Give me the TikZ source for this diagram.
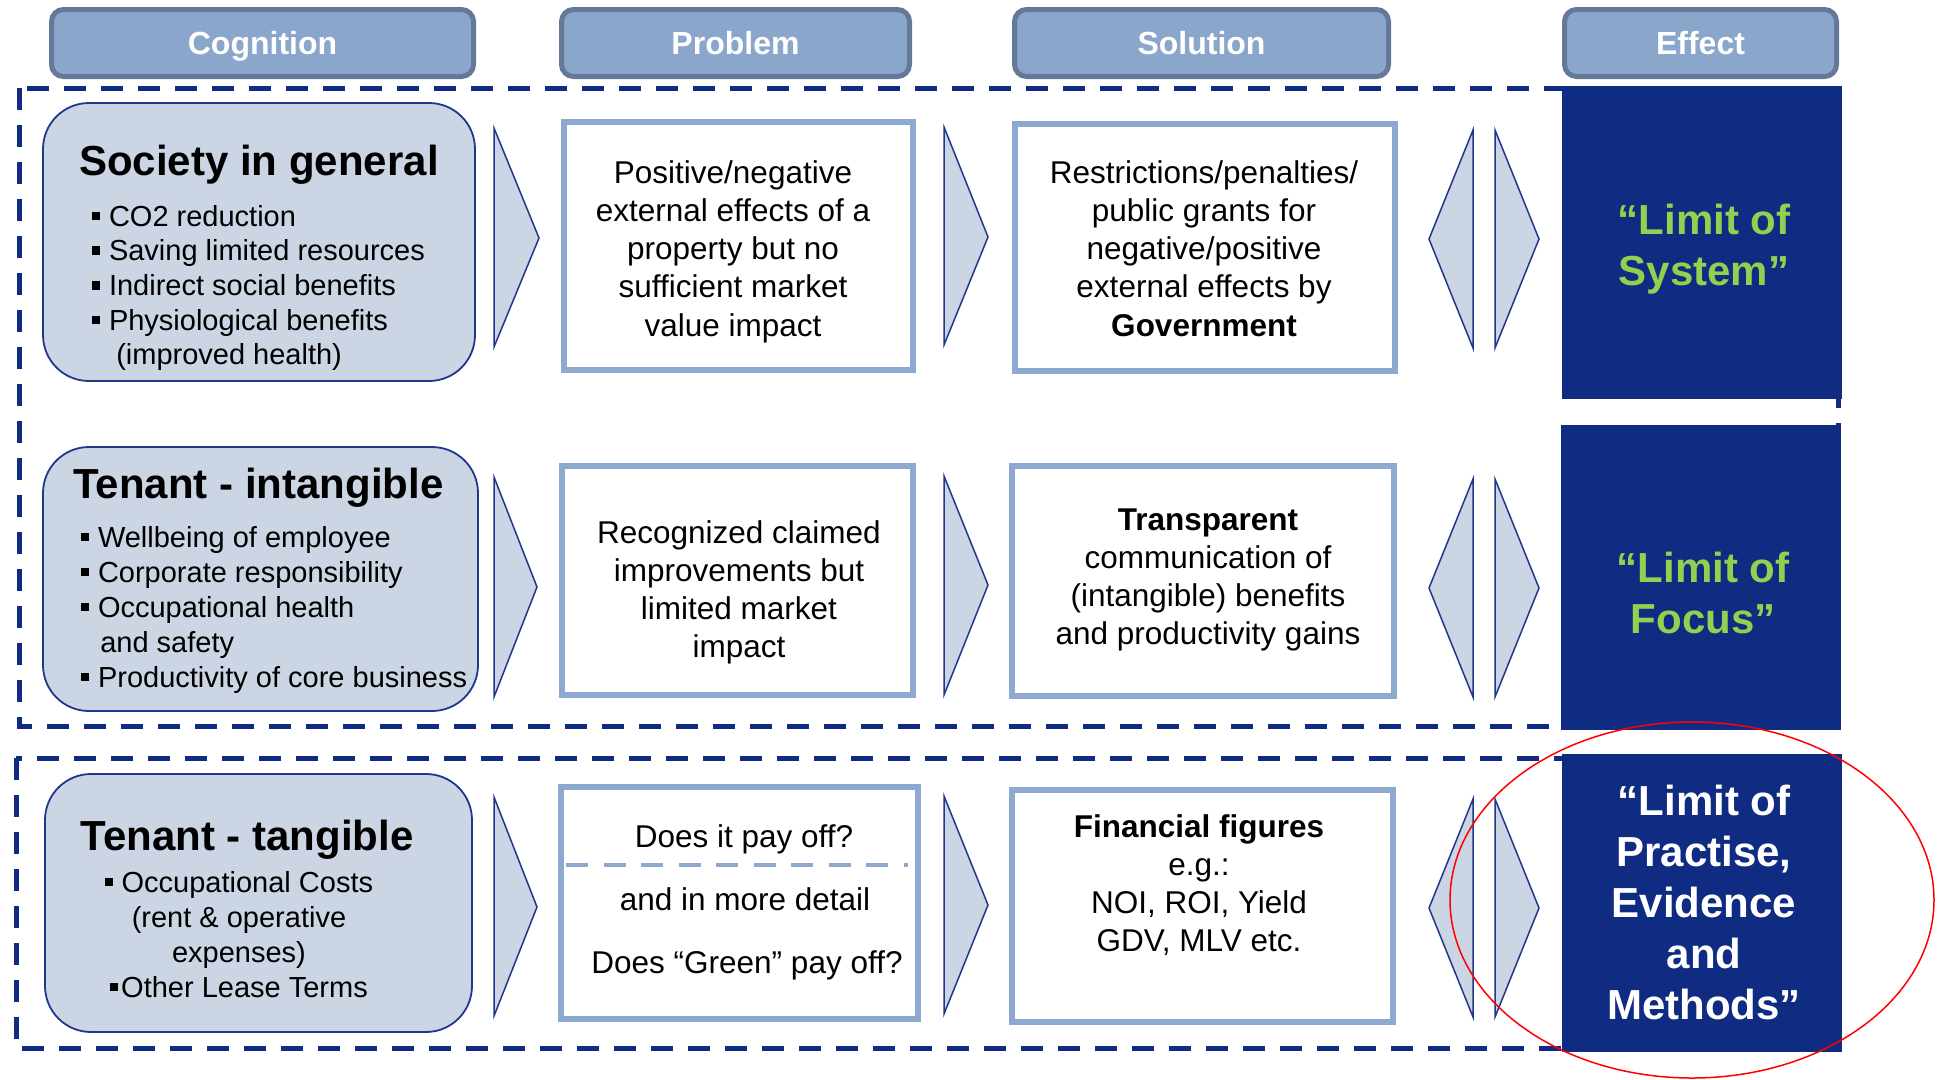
\documentclass[tikz,border=0pt]{standalone}
\usepackage{fontspec}
\setmainfont{Liberation Sans}
\definecolor{navy}{RGB}{16,43,130}
\definecolor{hdrfill}{RGB}{138,166,203}
\definecolor{hdrline}{RGB}{100,120,152}
\definecolor{cogfill}{RGB}{203,213,227}
\definecolor{cogline}{RGB}{32,56,140}
\definecolor{boxline}{RGB}{142,169,207}
\definecolor{limgreen}{RGB}{146,208,80}
\newcommand\blk[1]{\begin{tabular}[t]{@{}c@{}}#1\end{tabular}}
\newcommand\blkl[1]{\begin{tabular}[t]{@{}l@{}}#1\end{tabular}}
\newcommand\sqbox{\rule[0.2em]{0.28em}{0.3em}}
\newcommand\sqb{\sqbox\hspace{0.3em}}
\begin{document}
\begin{tikzpicture}[x=1pt,y=-1pt,
  frame/.style={draw=navy,line width=5,dash pattern=on 22pt off 15pt},
  hdr/.style={draw=hdrline,line width=5,fill=hdrfill,rounded corners=12,text=white,
    font=\fontsize{32}{38}\selectfont\bfseries,text height=23,text depth=0,inner sep=0},
  cogbox/.style={draw=cogline,line width=1.8,fill=cogfill,rounded corners=46,inner sep=0},
  wbox/.style={draw=boxline,line width=6,fill=white,inner sep=0},
  effbox/.style={fill=navy,inner sep=0,outer sep=0},
  chevron/.style={draw=cogline,line width=1.5,fill=cogfill,line join=miter},
  pdash/.style={draw=boxline,line width=4,dash pattern=on 22pt off 15.5pt},
  ttl/.style={font=\fontsize{42}{50}\selectfont\bfseries,inner sep=0},
  bul/.style={font=\fontsize{29}{34.7}\selectfont,inner sep=0},
  txt/.style={font=\fontsize{31.5}{38.3}\selectfont,inner sep=0},
  efftxt/.style={font=\fontsize{42}{51}\selectfont\bfseries,inner sep=0}]
\useasboundingbox (0,0) rectangle (1946,1079);
\fill[white] (0,0) rectangle (1946,1079);

% dashed group frames
\draw[frame] (19,88) rectangle (1838,726);
\draw[frame] (16,758) rectangle (1838,1048);

% headers
\node[hdr,minimum width=422,minimum height=67] (hcog) at (262.5,43) {Cognition};
\node[hdr,minimum width=348,minimum height=67] (hprob) at (735.5,43) {Problem};
\node[hdr,minimum width=374,minimum height=67] (hsol) at (1201.5,43) {Solution};
\node[hdr,minimum width=272,minimum height=67] (heff) at (1700.5,43) {Effect};

% cognition boxes
\node[cogbox,minimum width=432,minimum height=278] (c1) at (259,242) {};
\node[cogbox,minimum width=435,minimum height=264] (c2) at (260.5,579) {};
\node[cogbox,minimum width=427,minimum height=258] (c3) at (258.5,903) {};

% problem boxes
\node[wbox,minimum width=349,minimum height=248] (p1) at (738.5,246) {};
\node[wbox,minimum width=351,minimum height=229] (p2) at (737.5,580.5) {};
\node[wbox,minimum width=357,minimum height=232] (p3) at (739.5,903) {};

% solution boxes
\node[wbox,minimum width=380,minimum height=247] (s1) at (1205,247.5) {};
\node[wbox,minimum width=382,minimum height=230] (s2) at (1203,581) {};
\node[wbox,minimum width=381,minimum height=232] (s3) at (1202.5,906) {};

% effect boxes
\node[effbox,minimum width=280,minimum height=313] (e1) at (1702,242.5) {};
\node[effbox,minimum width=280,minimum height=305] (e2) at (1701,577.5) {};
\node[effbox,minimum width=280,minimum height=298] (e3) at (1702,903) {};

% chevrons cognition -> problem
\draw[chevron] (494,128) -- (539,238) -- (494,347) -- cycle;
\draw[chevron] (494,477) -- (537,587) -- (494,697) -- cycle;
\draw[chevron] (494,797) -- (537,907) -- (494,1016) -- cycle;
% chevrons problem -> solution
\draw[chevron] (944,127) -- (988,237) -- (944,345) -- cycle;
\draw[chevron] (944,476) -- (988,585) -- (944,695) -- cycle;
\draw[chevron] (944,796) -- (988,905) -- (944,1014) -- cycle;
% double chevrons solution <-> effect
\draw[chevron] (1473,130) -- (1429,239) -- (1473,348) -- cycle;
\draw[chevron] (1495,130) -- (1539,239) -- (1495,348) -- cycle;
\draw[chevron] (1473,479) -- (1429,588) -- (1473,697) -- cycle;
\draw[chevron] (1495,479) -- (1539,588) -- (1495,697) -- cycle;
\draw[chevron] (1473,799) -- (1429,908) -- (1473,1017) -- cycle;
\draw[chevron] (1495,799) -- (1539,908) -- (1495,1017) -- cycle;

% cognition texts
\node[ttl,anchor=base] (t1) at (259,175) {Society in general};
\node[bul,anchor=base west] (b1) at (92,226) {\blkl{\sqb CO2 reduction\\
  \sqb Saving limited resources\\ \sqb Indirect social benefits\\
  \sqb Physiological benefits\\ \hspace{0.83em}(improved health)}};
\node[ttl,anchor=base] (t2) at (258.5,498) {Tenant - intangible};
\node[bul,anchor=base west,font=\fontsize{29}{35}\selectfont] (b2) at (81,547) {\blkl{\sqb Wellbeing of employee\\
  \sqb Corporate responsibility\\ \sqb Occupational health\\
  \hspace{0.66em}and safety\\ \sqb Productivity of core business}};
\node[ttl,anchor=base] (t3) at (247,850) {Tenant - tangible};
\node[bul,anchor=base,font=\fontsize{29}{35}\selectfont] (b3) at (239,892) {\blk{\sqb Occupational Costs\\
  (rent \& operative\\ expenses)\\ \sqbox\hspace{0.1em}Other Lease Terms}};

% problem texts
\node[txt,anchor=base] (pt1) at (733,183) {\blk{Positive/negative\\external effects of a\\property but no\\sufficient market\\value impact}};
\node[txt,anchor=base] (pt2) at (739,543) {\blk{Recognized claimed\\improvements but\\limited market\\impact}};
\node[txt,anchor=base] (pt3a) at (744,847) {Does it pay off?};
\draw[pdash] (566,865) -- (908,865);
\node[txt,anchor=base] (pt3b) at (745,910) {and in more detail};
\node[txt,anchor=base] (pt3c) at (747,973) {Does “Green” pay off?};

% solution texts
\node[txt,anchor=base] (st1) at (1204,183) {\blk{Restrictions/penalties/\\public grants for\\negative/positive\\external effects by\\\textbf{Government}}};
\node[txt,anchor=base] (st2) at (1208,530) {\blk{\textbf{Transparent}\\communication of\\(intangible) benefits\\and productivity gains}};
\node[txt,anchor=base] (st3) at (1199,837) {\blk{\textbf{Financial figures}\\e.g.:\\NOI, ROI, Yield\\GDV, MLV etc.}};

% effect texts
\node[efftxt,anchor=base,text=limgreen] (et1) at (1704,234) {\blk{“Limit of\\System”}};
\node[efftxt,anchor=base,text=limgreen] (et2) at (1703,582) {\blk{“Limit of\\Focus”}};
\node[efftxt,anchor=base,text=white] (et3) at (1704,815) {\blk{“Limit of\\Practise,\\Evidence\\and\\Methods”}};

% red annotation ellipse
\draw[red,line width=1.5] (1692,900) ellipse [x radius=242,y radius=178];
\end{tikzpicture}
\end{document}
